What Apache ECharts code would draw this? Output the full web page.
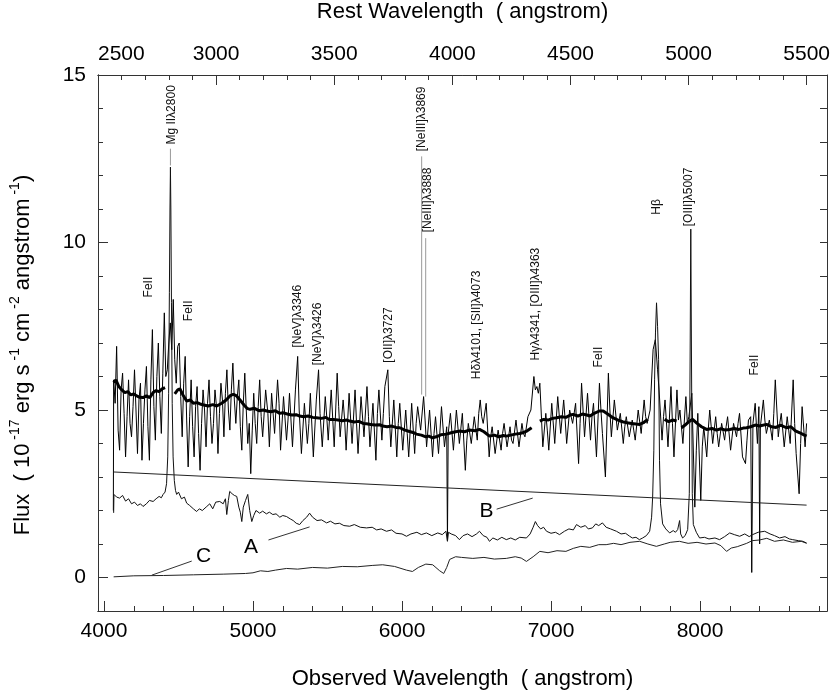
<!DOCTYPE html>
<html>
<head>
<meta charset="utf-8">
<title>Spectrum</title>
<script src="https://cdn.jsdelivr.net/npm/echarts@6/dist/echarts.min.js"></script>
<style>
html, body { margin: 0; padding: 0; background: #fff; }
#chart { width: 830px; height: 693px; }
</style>
</head>
<body>
<div id="chart"></div>
<script>
var FONT = '"Liberation Sans", Arial, sans-serif'

// observed spectrum, [observed wavelength, flux]
var observed = [
  [4063,2.0],[4065,5.9],[4075,5.2],[4085,6.9],[4095,4.4],[4105,3.8],[4115,5.6],[4125,6.1],[4135,4.9],[4145,3.6],[4155,4.8],
  [4165,5.9],[4175,4.6],[4185,4.2],[4195,5.1],[4205,6.2],[4215,5.0],[4225,3.7],[4235,5.3],[4245,5.8],[4255,3.5],
  [4265,4.6],[4275,5.6],[4285,6.3],[4295,4.5],[4305,3.5],[4315,5.9],[4325,7.4],[4335,5.1],[4345,4.1],[4355,6.0],
  [4365,7.0],[4375,5.4],[4385,4.3],[4395,6.1],[4405,7.9],[4415,6.0],[4425,6.2],[4435,7.0],[4445,7.6],[4455,6.8],
  [4465,8.3],[4475,6.5],[4485,5.8],[4495,6.9],[4505,7.0],[4515,5.4],[4525,4.2],[4535,5.8],[4545,6.6],[4555,4.7],
  [4565,3.3],[4575,4.8],[4585,5.9],[4595,4.5],[4605,3.6],[4615,5.1],[4625,5.7],[4635,4.3],[4645,3.2],[4655,4.6],
  [4665,5.6],[4675,5.0],[4685,3.9],[4695,5.2],[4705,5.9],[4715,4.8],[4725,4.0],[4735,4.6],[4745,5.6],[4755,5.1],
  [4765,3.7],[4775,4.9],[4785,5.8],[4795,5.3],[4805,4.2],[4815,5.5],[4825,6.2],[4835,5.0],[4845,4.4],[4855,5.6],
  [4865,6.4],[4875,5.3],[4885,4.6],[4895,5.4],[4905,5.9],[4915,4.5],[4925,3.8],[4935,5.2],[4945,6.1],[4955,5.0],
  [4965,4.0],[4975,4.6],[4985,3.1],[4995,4.4],[5005,5.5],[5015,4.6],[5025,4.0],[5035,5.1],[5045,5.9],[5055,4.8],
  [5065,4.2],[5085,5.6],[5100,4.9],[5110,3.9],[5125,5.5],[5145,4.3],[5165,5.9],[5175,5.2],[5185,3.8],[5205,5.4],
  [5225,4.1],[5235,4.7],[5245,5.5],[5265,3.9],[5285,5.6],[5300,6.6],[5310,5.0],[5325,3.7],[5345,5.2],[5365,4.0],
  [5375,4.6],[5385,5.5],[5405,3.6],[5425,5.3],[5440,6.2],[5450,4.9],[5465,3.9],[5485,5.4],[5495,4.8],[5505,4.1],
  [5525,5.6],[5545,3.9],[5565,6.1],[5575,5.1],[5585,4.2],[5605,5.3],[5615,4.7],[5625,3.8],[5645,5.5],[5665,4.0],
  [5685,5.6],[5695,4.6],[5705,3.7],[5725,5.4],[5745,4.2],[5765,5.7],[5775,4.8],[5785,3.9],[5805,5.2],[5825,3.5],
  [5835,4.9],[5845,5.6],[5865,4.1],[5875,4.9],[5885,5.7],[5905,6.2],[5915,4.8],[5925,3.9],[5945,5.3],[5965,3.6],
  [5975,4.6],[5985,5.2],[6005,3.8],[6025,5.0],[6035,4.3],[6045,3.6],[6065,5.2],[6085,3.7],[6095,4.6],[6105,5.1],
  [6125,4.4],[6145,5.4],[6155,4.7],[6165,3.9],[6185,5.0],[6205,3.6],[6215,4.3],[6225,4.8],[6245,3.7],[6265,5.1],
  [6285,3.9],[6300,4.5],[6305,1.1],[6310,4.3],[6325,4.9],[6345,3.8],[6355,4.4],[6365,5.0],[6385,4.0],[6405,4.9],
  [6425,3.2],[6435,4.1],[6445,4.6],[6465,4.0],[6485,4.8],[6505,4.1],[6515,4.9],[6525,5.3],[6535,4.8],[6545,4.6],
  [6565,5.2],[6585,3.6],[6595,4.2],[6605,4.5],[6625,3.7],[6645,4.4],[6665,3.8],[6675,4.3],[6685,4.6],[6705,3.9],
  [6725,4.5],[6735,4.1],[6745,4.0],[6765,4.7],[6785,3.9],[6805,4.6],[6815,4.3],[6825,4.2],[6845,4.8],[6865,5.0],
  [6885,6.0],[6895,5.6],[6905,5.7],[6915,5.5],[6925,5.8],[6945,3.9],[6965,4.9],[6975,4.4],[6985,3.8],[7005,5.2],
  [7025,4.0],[7045,5.4],[7065,4.3],[7085,5.3],[7095,4.7],[7105,4.0],[7125,5.0],[7145,4.6],[7165,5.2],[7185,3.4],
  [7195,4.6],[7205,5.8],[7225,4.2],[7245,5.5],[7265,4.1],[7275,4.8],[7285,5.2],[7305,3.6],[7325,5.8],[7335,5.0],
  [7345,4.3],[7365,3.0],[7385,6.1],[7395,5.0],[7405,4.2],[7425,5.3],[7445,4.4],[7465,4.9],[7485,4.0],[7495,4.5],
  [7505,4.8],[7525,4.2],[7545,4.7],[7555,4.4],[7565,4.1],[7585,5.0],[7605,4.3],[7625,5.3],[7635,4.8],[7645,4.6],
  [7665,5.0],[7685,6.8],[7700,7.1],[7715,6.2],[7725,5.6],[7745,4.1],[7755,4.8],[7765,5.3],[7785,3.9],[7805,5.7],
  [7815,4.6],[7825,3.6],[7845,5.6],[7855,4.7],[7865,5.0],[7885,4.0],[7905,5.4],[7915,4.6],[7925,4.8],[7945,5.5],
  [7965,2.1],[7975,3.8],[7985,4.9],[8005,2.3],[8015,3.9],[8025,4.5],[8045,3.6],[8055,4.4],[8065,5.0],[8085,4.0],
  [8105,4.8],[8115,4.3],[8125,3.9],[8145,4.6],[8165,4.1],[8175,4.5],[8185,4.8],[8205,3.8],[8225,4.6],[8245,4.2],
  [8255,4.6],[8265,4.9],[8285,3.6],[8305,3.4],[8315,4.1],[8325,4.7],[8340,4.8],[8347,0.15],[8355,4.6],[8370,5.2],
  [8385,4.0],[8395,5.1],[8400,1.0],[8405,4.5],[8425,5.3],[8435,4.7],[8445,4.3],[8465,4.7],[8485,4.1],[8495,4.9],
  [8505,5.9],[8525,4.2],[8535,4.6],[8545,4.9],[8565,3.9],[8585,4.8],[8595,4.4],[8605,4.0],[8625,5.9],[8635,4.6],
  [8645,3.7],[8665,2.5],[8675,4.0],[8685,5.1],[8705,3.9],[8715,4.6]
]

// smoothed fit (thick line), null = gap
var smoothFit = [
  [4065,5.82],[4080,5.9],[4100,5.7],[4120,5.6],[4140,5.52],[4160,5.55],[4180,5.45],[4200,5.48],[4220,5.42],[4240,5.38],
  [4262,5.37],[4285,5.42],[4307,5.37],[4330,5.52],[4350,5.58],[4370,5.55],[4390,5.63],[4410,5.67],[4440,null],
  [4475,5.48],[4495,5.6],[4510,5.63],[4530,5.45],[4555,5.27],[4580,5.3],[4600,5.2],[4625,5.22],[4645,5.18],[4670,5.15],
  [4700,5.12],[4730,5.16],[4757,5.12],[4790,5.2],[4820,5.3],[4845,5.42],[4868,5.47],[4890,5.42],[4913,5.3],[4940,5.15],
  [4960,5.05],[4980,5.02],[5010,5.05],[5040,4.98],[5070,5.0],[5092,4.97],[5120,4.95],[5150,4.98],[5180,4.9],[5200,4.92],
  [5230,4.88],[5260,4.85],[5290,4.86],[5313,4.82],[5340,4.8],[5370,4.82],[5400,4.78],[5426,4.77],[5460,4.75],[5490,4.78],
  [5510,4.72],[5537,4.72],[5570,4.7],[5600,4.68],[5630,4.7],[5650,4.67],[5680,4.64],[5710,4.66],[5740,4.6],[5762,4.59],
  [5790,4.57],[5820,4.55],[5850,4.56],[5870,4.52],[5900,4.5],[5930,4.52],[5960,4.48],[5985,4.47],[6020,4.4],[6050,4.36],
  [6080,4.32],[6097,4.28],[6130,4.25],[6160,4.2],[6180,4.22],[6205,4.17],[6230,4.2],[6260,4.26],[6298,4.28],[6330,4.32],
  [6360,4.35],[6385,4.37],[6420,4.35],[6450,4.4],[6490,4.38],[6520,4.42],[6550,4.35],[6587,4.22],[6620,4.25],[6650,4.2],
  [6680,4.24],[6700,4.22],[6730,4.25],[6760,4.28],[6790,4.3],[6810,4.32],[6840,4.38],[6870,4.47],[6900,null],
  [6925,4.67],[6950,4.72],[6980,4.7],[7010,4.75],[7038,4.77],[7070,4.8],[7100,4.78],[7130,4.85],[7148,4.87],[7180,4.82],
  [7210,4.88],[7240,4.85],[7262,4.82],[7290,4.9],[7324,4.97],[7350,4.97],[7380,4.88],[7415,4.77],[7450,4.7],[7480,4.65],
  [7510,4.62],[7540,4.6],[7570,4.58],[7595,4.57],[7620,4.62],[7649,4.72],[7700,null],
  [7762,4.72],[7790,4.65],[7815,4.7],[7843,4.67],[7860,null],
  [7876,4.47],[7900,4.55],[7925,4.65],[7950,4.72],[7980,4.6],[8010,4.5],[8044,4.42],[8080,4.45],[8110,4.4],[8140,4.44],
  [8170,4.4],[8199,4.42],[8230,4.45],[8260,4.42],[8290,4.46],[8312,4.47],[8340,4.5],[8370,4.55],[8400,4.52],[8446,4.57],
  [8480,4.5],[8510,4.48],[8540,4.55],[8580,4.47],[8610,4.5],[8640,4.38],[8670,4.32],[8700,4.25],[8715,4.22]
]

// component A
var componentA = [
  [4065,1.93],[4067,2.48],[4085,2.4],[4105,2.37],[4125,2.45],[4145,2.28],[4165,2.35],[4185,2.2],[4205,2.25],[4225,2.15],
  [4245,2.2],[4262,2.12],[4285,2.2],[4305,2.3],[4330,2.27],[4350,2.35],[4370,2.42],[4385,2.38],[4397,2.48],[4410,2.55],
  [4420,2.8],[4428,3.6],[4434,5.5],[4439,8.5],[4443,11.0],[4446,12.25],[4449,11.0],[4453,8.2],[4458,5.2],[4464,3.6],
  [4472,2.9],[4480,2.6],[4488,2.48],[4500,2.55],[4520,2.35],[4540,2.4],[4555,2.22],[4575,2.15],[4600,2.05],[4622,1.97],
  [4640,2.05],[4660,2.0],[4690,2.12],[4710,2.2],[4730,2.05],[4750,2.25],[4777,2.27],[4800,2.2],[4815,2.35],[4824,1.88],
  [4835,2.3],[4844,2.57],[4860,2.5],[4875,2.45],[4891,2.42],[4905,2.1],[4915,1.95],[4925,1.67],[4935,2.1],[4950,2.3],
  [4965,2.48],[4978,2.0],[4992,1.67],[5005,1.85],[5020,2.0],[5045,1.92],[5065,1.98],[5090,1.9],[5110,1.95],[5133,1.88],
  [5155,1.9],[5180,1.8],[5200,1.85],[5225,1.82],[5250,1.75],[5270,1.7],[5290,1.62],[5313,1.58],[5335,1.7],[5360,1.8],
  [5380,1.92],[5400,1.8],[5430,1.7],[5460,1.72],[5494,1.63],[5520,1.68],[5550,1.6],[5580,1.62],[5610,1.55],[5649,1.53],
  [5680,1.58],[5720,1.5],[5762,1.48],[5800,1.5],[5830,1.42],[5860,1.45],[5896,1.38],[5930,1.42],[5960,1.32],[6000,1.3],
  [6030,1.23],[6060,1.3],[6100,1.35],[6130,1.28],[6164,1.33],[6200,1.25],[6240,1.33],[6270,1.28],[6295,1.38],[6305,1.08],
  [6312,1.35],[6330,1.3],[6360,1.25],[6385,1.13],[6410,1.25],[6440,1.3],[6470,1.22],[6500,1.3],[6520,1.38],[6545,1.25],
  [6570,1.2],[6587,1.08],[6610,1.18],[6640,1.12],[6670,1.2],[6700,1.13],[6730,1.18],[6760,1.12],[6790,1.2],[6835,1.18],
  [6860,1.3],[6880,1.5],[6895,1.67],[6910,1.55],[6930,1.45],[6950,1.5],[6970,1.38],[7000,1.32],[7030,1.35],[7057,1.28],
  [7090,1.38],[7120,1.45],[7150,1.42],[7171,1.58],[7200,1.5],[7230,1.55],[7250,1.45],[7278,1.48],[7300,1.6],[7320,1.55],
  [7345,1.63],[7370,1.5],[7400,1.45],[7439,1.38],[7470,1.3],[7500,1.32],[7528,1.23],[7546,1.18],[7570,1.2],[7593,1.13],
  [7615,1.18],[7640,1.25],[7662,1.38],[7675,1.8],[7682,2.4],[7690,3.8],[7695,5.9],[7701,7.3],[7708,8.2],[7715,7.5],
  [7722,6.5],[7728,3.5],[7735,2.2],[7749,1.6],[7770,1.45],[7796,1.33],[7820,1.4],[7835,1.35],[7850,1.43],[7863,1.7],
  [7870,1.3],[7883,1.18],[7900,1.25],[7917,1.43],[7928,2.5],[7934,7.0],[7938,10.4],[7942,7.0],[7948,2.5],[7955,1.58],
  [7975,1.35],[7997,1.18],[8030,1.2],[8060,1.15],[8100,1.18],[8131,1.13],[8165,1.22],[8199,1.33],[8230,1.28],[8266,1.23],
  [8300,1.3],[8330,1.22],[8353,1.28],[8390,1.35],[8434,1.38],[8470,1.3],[8500,1.25],[8534,1.18],[8570,1.22],[8600,1.15],
  [8622,1.13],[8660,1.1],[8690,1.08],[8715,1.03]
]

// component B (power law)
var componentB = [[4065,3.15],[8715,2.16]]

// component C
var componentC = [
  [4065,0.02],[4200,0.05],[4400,0.06],[4600,0.08],[4800,0.1],[4950,0.12],[5000,0.14],[5050,0.2],[5100,0.18],[5150,0.22],
  [5225,0.27],[5300,0.25],[5400,0.3],[5500,0.28],[5600,0.33],[5700,0.32],[5800,0.36],[5870,0.38],[5950,0.33],[6030,0.22],
  [6070,0.18],[6110,0.3],[6160,0.4],[6206,0.38],[6253,0.2],[6280,0.12],[6300,0.3],[6320,0.54],[6360,0.62],[6400,0.6],
  [6475,0.57],[6550,0.6],[6620,0.55],[6700,0.57],[6760,0.62],[6800,0.58],[6835,0.48],[6880,0.62],[6925,0.78],[6980,0.74],
  [7040,0.8],[7100,0.78],[7150,0.87],[7200,0.93],[7260,0.9],[7320,0.98],[7370,0.98],[7420,1.02],[7470,0.98],[7530,1.05],
  [7595,1.08],[7650,1.0],[7707,0.93],[7760,1.0],[7800,1.05],[7862,1.08],[7920,1.02],[7980,1.05],[8040,1.0],[8100,1.03],
  [8140,0.95],[8178,0.78],[8210,0.88],[8250,0.92],[8313,1.02],[8350,1.1],[8400,1.12],[8448,1.17],[8500,1.08],[8560,1.12],
  [8620,1.05],[8680,1.08],[8715,1.02]
]

var obsTicks = [4000, 5000, 6000, 7000, 8000]
var obsMinor = [4200, 4400, 4600, 4800, 5200, 5400, 5600, 5800, 6200, 6400, 6600, 6800, 7200, 7400, 7600, 7800, 8200, 8400, 8600, 8800]
var restTicks = [2500, 3000, 3500, 4000, 4500, 5000, 5500]
var restMinor = [2600, 2700, 2800, 2900, 3100, 3200, 3300, 3400, 3600, 3700, 3800, 3900, 4100, 4200, 4300, 4400, 4600, 4700, 4800, 4900, 5100, 5200, 5300, 5400]
var fluxTicks = [0, 5, 10, 15]
var fluxMinor = [1, 2, 3, 4, 6, 7, 8, 9, 11, 12, 13, 14]
var fluxRight = [0, 1, 2, 3, 4, 5, 6, 7, 8, 9, 10, 11, 12, 13, 14]

// line identifications: text, wavelength, flux of label centre
var lineLabels = [
  ['FeII', 4300, 8.67],
  ['Mg II\u03bb2800', 4454, 13.81],
  ['FeII', 4569, 7.96],
  ['[NeV]\u03bb3346', 5300, 7.8],
  ['[NeV]\u03bb3426', 5434, 7.27],
  ['[OII]\u03bb3727', 5911, 7.24],
  ['[NeIII]\u03bb3869', 6132, 13.69],
  ['[NeIII]\u03bb3888', 6172, 11.27],
  ['H\u03b4\u03bb4101, [SII]\u03bb4073', 6501, 7.54],
  ['H\u03b3\u03bb4341, [OIII]\u03bb4363', 6897, 8.16],
  ['FeII', 7320, 6.58],
  ['H\u03b2', 7709, 11.06],
  ['[OIII]\u03bb5007', 7924, 11.36],
  ['FeII', 8367, 6.34]
]
var leaders = [[4446, 12.3, 12.8], [6132, 5.46, 12.57], [6159, 5.4, 10.13]]
var compLabels = [['A', 4986, 0.91], ['B', 6567, 1.99], ['C', 4669, 0.64]]
var pointers = [
  [[5104, 1.12], [5380, 1.51]],
  [[6635, 2.04], [6877, 2.37]],
  [[4321, 0.07], [4589, 0.49]]
]

function gaps(data) {
  return data.map(function (d) { return d[1] === null ? [d[0], '-'] : d })
}

var axisColor = '#333'
function axis(position, min, max) {
  return {
    type: 'value', position: position, min: min, max: max,
    splitLine: {show: false},
    axisLine: {show: true, onZero: false, lineStyle: {color: axisColor, width: 1}},
    axisTick: {show: false},
    axisLabel: {show: false}
  }
}
function ticks(ax, values, len) {
  ax.axisTick = {show: true, inside: true, length: len, customValues: values, lineStyle: {color: axisColor, width: 1}}
  return ax
}
function labels(ax, values, margin) {
  ax.axisLabel = {
    show: true, customValues: values, margin: margin, fontSize: 21, color: '#000', fontFamily: FONT,
    formatter: function (v) { return String(v) }
  }
  return ax
}

var xBottom = labels(ticks(axis('bottom', 3960, 8852), obsTicks, 10), obsTicks, 10)
xBottom.name = 'Observed Wavelength  ( angstrom)'
xBottom.nameLocation = 'middle'
xBottom.nameGap = 57
xBottom.nameTextStyle = {fontSize: 22, color: '#000', fontFamily: FONT}

var xTop = labels(ticks(axis('top', 2500, 5586), restTicks, 10), restTicks, 10)
xTop.axisLabel.alignMinLabel = 'left'
xTop.name = 'Rest Wavelength  ( angstrom)'
xTop.nameLocation = 'middle'
xTop.nameGap = 52
xTop.nameTextStyle = {fontSize: 22, color: '#000', fontFamily: FONT}

var yLeft = labels(ticks(axis('left', -1, 15), fluxTicks, 10), fluxTicks, 12)
yLeft.name = 'Flux  ( 10{s| -17} erg s{s| -1} cm{s| -2} angstrom{s| -1})'
yLeft.nameLocation = 'middle'
yLeft.nameRotate = 90
yLeft.nameGap = 60
yLeft.nameTextStyle = {
  fontSize: 22, lineHeight: 30, color: '#000', fontFamily: FONT, padding: [0, 0, 0, -24],
  rich: {s: {fontSize: 14, lineHeight: 14, verticalAlign: 'top', color: '#000', fontFamily: FONT}}
}

var myChart = echarts.init(document.getElementById('chart'))

var series = [
  {type: 'line', data: observed, symbol: 'none', lineStyle: {color: '#000', width: 1}, z: 2},
  {type: 'line', data: gaps(smoothFit), symbol: 'none', connectNulls: false, lineStyle: {color: '#000', width: 3}, z: 3},
  {type: 'line', data: componentA, symbol: 'none', lineStyle: {color: '#111', width: 1}, z: 4},
  {type: 'line', data: componentB, symbol: 'none', lineStyle: {color: '#222', width: 1}, z: 4},
  {type: 'line', data: componentC, symbol: 'none', lineStyle: {color: '#222', width: 1}, z: 4}
]
leaders.forEach(function (l) {
  series.push({type: 'line', data: [[l[0], l[1]], [l[0], l[2]]], symbol: 'none', lineStyle: {color: '#999', width: 1}, z: 1})
})
pointers.forEach(function (p) {
  series.push({type: 'line', data: p, symbol: 'none', lineStyle: {color: '#333', width: 1}, z: 4})
})

var option = {
  animation: false,
  backgroundColor: '#fff',
  grid: {left: 98, right: 3, top: 75, bottom: 82, containLabel: false, outerBoundsMode: 'none'},
  xAxis: [
    xBottom,
    ticks(axis('bottom', 3960, 8852), obsMinor, 5),
    xTop,
    ticks(axis('top', 2500, 5586), restMinor, 5)
  ],
  yAxis: [
    yLeft,
    ticks(axis('left', -1, 15), fluxMinor, 5),
    ticks(axis('right', -1, 15), fluxRight, 7)
  ],
  series: series
}

myChart.setOption(option)

var graphics = []
lineLabels.forEach(function (a) {
  var p = myChart.convertToPixel({xAxisIndex: 0, yAxisIndex: 0}, [a[1], a[2]])
  graphics.push({
    type: 'text', x: p[0], y: p[1], rotation: Math.PI / 2, silent: true,
    style: {text: a[0], fontSize: 12, fontFamily: FONT, fill: '#111',
      align: 'center', verticalAlign: 'middle', textAlign: 'center', textVerticalAlign: 'middle'}
  })
})
compLabels.forEach(function (a) {
  var p = myChart.convertToPixel({xAxisIndex: 0, yAxisIndex: 0}, [a[1], a[2]])
  graphics.push({
    type: 'text', x: p[0], y: p[1], silent: true,
    style: {text: a[0], fontSize: 21, fontFamily: FONT, fill: '#000',
      align: 'center', verticalAlign: 'middle', textAlign: 'center', textVerticalAlign: 'middle'}
  })
})
myChart.setOption({graphic: graphics})
</script>
</body>
</html>
